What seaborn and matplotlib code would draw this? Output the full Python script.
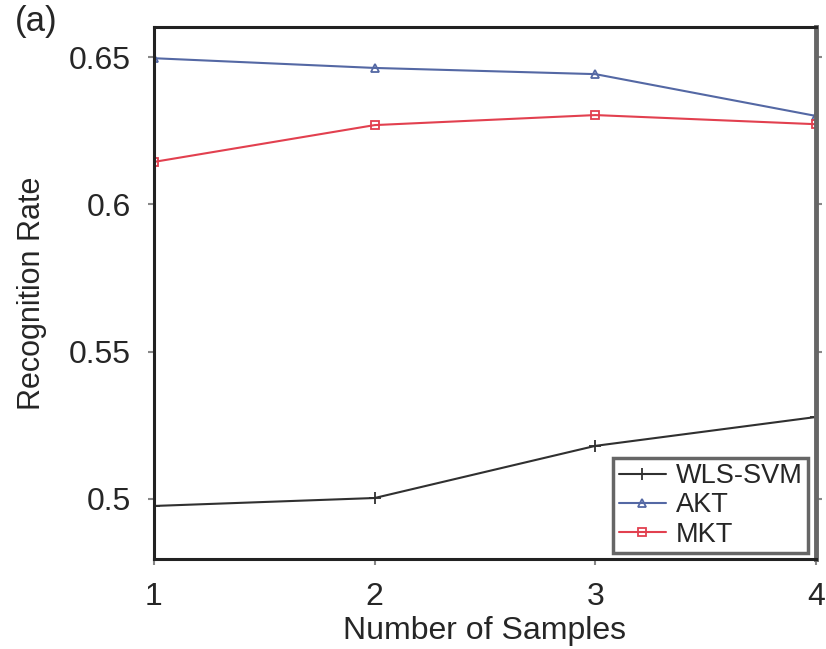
import pandas as pd
import seaborn as sns
import matplotlib.pyplot as plt

# Values
samples = [1, 2, 3, 4]
wls_svm = [0.4976, 0.5003, 0.518, 0.5278]
akt = [0.6496, 0.6463, 0.6442, 0.630]
mkt = [0.6144, 0.6269, 0.6303, 0.6272]

methods = ["WLS-SVM", "AKT", "MKT"]
colors = {"WLS-SVM": "#303030", "AKT": "#5468a4", "MKT": "#e2404f"}
markers = {"WLS-SVM": "+", "AKT": "^", "MKT": "s"}

df = pd.DataFrame({
    "Number of Samples": samples * 3,
    "Recognition Rate": wls_svm + akt + mkt,
    "Method": sum([[m] * len(samples) for m in methods], []),
})

sns.set_style("white")
plt.rcParams["font.family"] = ["Liberation Sans", "DejaVu Sans"]

fig, ax = plt.subplots(figsize=(8.26, 6.49), dpi=100)
for m in methods:
    sub = df[df["Method"] == m]
    filled = markers[m] != "+"
    sns.lineplot(
        data=sub, x="Number of Samples", y="Recognition Rate",
        color=colors[m], marker=markers[m], label=m,
        linewidth=1.5, markersize=6 if filled else 8, markeredgewidth=1.3,
        markerfacecolor="none" if filled else colors[m],
        markeredgecolor=colors[m], ax=ax,
    )

ax.set_xlim(1, 4)
ax.set_ylim(0.4796, 0.6602)
ax.set_xticks(samples)
ax.set_yticks([0.5, 0.55, 0.6, 0.65])
ax.set_yticklabels(["0.5", "0.55", "0.6", "0.65"])
ax.tick_params(axis="both", labelsize=23, direction="out", length=4.5,
               width=1.5, color="#888888", pad=12, left=True, bottom=True)
ax.tick_params(axis="y", right=True)
ax.set_xlabel("Number of Samples", fontsize=23, labelpad=3)
ax.set_ylabel("Recognition Rate", fontsize=22)
ax.yaxis.set_label_coords(-0.161, 0.5)

for side in ["left", "bottom", "top"]:
    ax.spines[side].set_color("#222222")
    ax.spines[side].set_linewidth(2.2)
ax.spines["right"].set_color("#666666")
ax.spines["right"].set_linewidth(3.5)

leg = ax.legend(loc="lower right", bbox_to_anchor=(0.988, 0.011), fontsize=19.5,
                frameon=True, fancybox=False, borderaxespad=0, borderpad=0.2,
                labelspacing=0.12, handlelength=1.74, handletextpad=0.37)
leg.get_frame().set_edgecolor("#404040")
leg.get_frame().set_linewidth(2.5)

fig.text(15 / 826, 1 - 5 / 649, "(a)", fontsize=25, va="top")

plt.subplots_adjust(left=0.1864, right=0.9879, top=0.9584, bottom=0.1387)
plt.savefig("out.png", dpi=100)
